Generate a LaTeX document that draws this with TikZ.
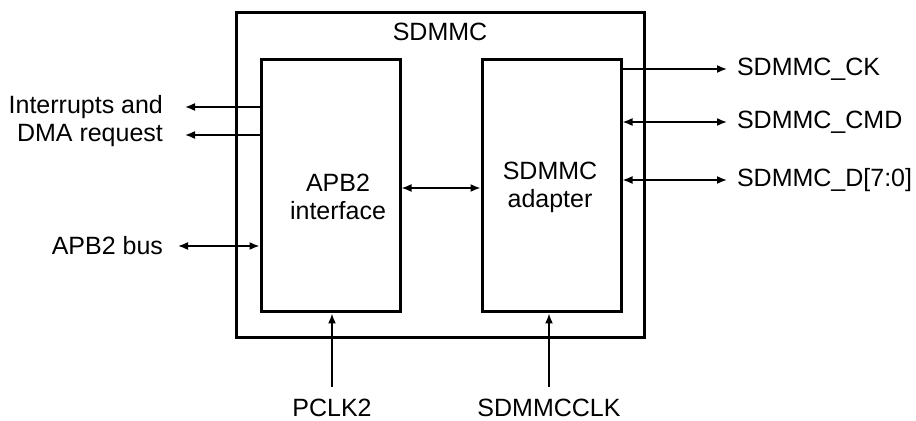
\documentclass[tikz,border=0pt]{standalone}
\usepackage{fontspec}
\setmainfont{Liberation Sans}
\usetikzlibrary{arrows.meta}

\begin{document}
\begin{tikzpicture}[x=0.5pt,y=-0.5pt,
  font=\fontsize{12.5}{14}\selectfont,
  block/.style={draw,line width=1.5pt,minimum width=139*0.5pt,minimum height=252*0.5pt,inner sep=0pt},
  frame/.style={draw,line width=1.5pt,minimum width=408*0.5pt,minimum height=325*0.5pt,inner sep=0pt},
  signal/.style={-{Latex[length=5pt,width=4pt]},line width=0.8pt},
  bidir/.style={{Latex[length=5pt,width=4pt]}-{Latex[length=5pt,width=4pt]},line width=0.8pt}
]
  \useasboundingbox (0,0) rectangle (916,421);

  \node[frame] (sdmmc) at (440,175.5) {};
  \node[below=2pt] (title) at (sdmmc.north) {SDMMC};
  \node[block] (apb) at (330.5,186) {};
  \node[block] (adapter) at (551.5,186) {};
  \node[align=center] (apblbl) at (338,197) {APB2\\interface};
  \node[align=center] (adalbl) at (550,187) {SDMMC\\adapter};

  % left side
  \coordinate (irq) at (185,107);
  \coordinate (dma) at (185,135);
  \coordinate (bus) at (178,246);
  \node[anchor=east,align=right] (irqlbl) at (170,121) {Interrupts and\\DMA request};
  \node[anchor=east] (buslbl) at (170,246) {APB2 bus};
  \draw[signal] (apb.west |- irq) -- (irq);
  \draw[signal] (apb.west |- dma) -- (dma);
  \draw[bidir] (bus) -- (apb.west |- bus);

  % between blocks
  \draw[bidir] (apb.east |- 0,188) -- (adapter.west |- 0,188);

  % right side
  \coordinate (ck) at (727,69);
  \coordinate (cmd) at (727,122);
  \coordinate (dat) at (727,180);
  \node[anchor=west] (cklbl) at (730,69) {SDMMC\_CK};
  \node[anchor=west] (cmdlbl) at (730,122) {SDMMC\_CMD};
  \node[anchor=west] (datlbl) at (730,180) {SDMMC\_D[7:0]};
  \draw[signal] (adapter.east |- ck) -- (ck);
  \draw[bidir] (adapter.east |- cmd) -- (cmd);
  \draw[bidir] (adapter.east |- dat) -- (dat);

  % clocks
  \coordinate (pclk) at (332,387);
  \coordinate (sdclk) at (549,387);
  \node (pclklbl) at (332,408) {PCLK2};
  \node (sdclklbl) at (549,408) {SDMMCCLK};
  \draw[signal] (pclk) -- (apb.south -| pclk);
  \draw[signal] (sdclk) -- (adapter.south -| sdclk);
\end{tikzpicture}
\end{document}
